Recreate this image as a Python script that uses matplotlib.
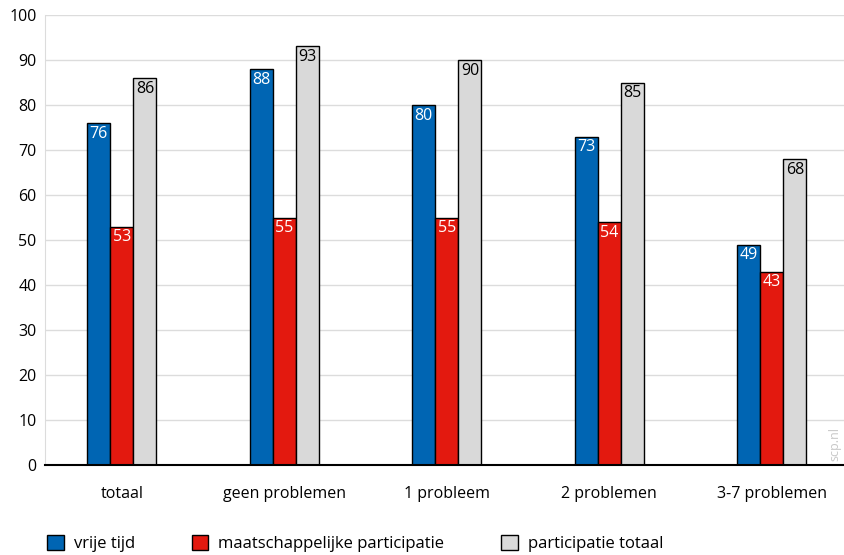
import numpy as np
import matplotlib.pyplot as plt
from matplotlib.patches import Patch

plt.rcParams['font.family'] = ['Open Sans', 'DejaVu Sans']

categories = ['totaal', 'geen problemen', '1 probleem', '2 problemen', '3-7 problemen']
vrije_tijd = [76, 88, 80, 73, 49]
maatsch = [53, 55, 55, 54, 43]
totaal = [86, 93, 90, 85, 68]
series = ['vrije tijd', 'maatschappelijke participatie', 'participatie totaal']
colors = ['#0065b3', '#e3190f', '#d9d9d9']
txtcol = ['white', 'white', 'black']

fig = plt.figure(figsize=(8.45, 5.55), dpi=100)
ax = fig.add_axes([0.053, 0.162, 0.947, 0.811])

x = np.arange(len(categories))
w = 0.142
for i, vals in enumerate([vrije_tijd, maatsch, totaal]):
    pos = x + (i - 1) * w
    ax.bar(pos, vals, w, color=colors[i], edgecolor='black', linewidth=1, zorder=3)
    for p, v in zip(pos, vals):
        ax.text(p, v - 0.6, str(v), ha='center', va='top', color=txtcol[i],
                fontsize=11.5, zorder=4)

ax.set_xlim(-0.474, 4.45)
ax.set_ylim(0, 100)
ax.set_yticks(range(0, 101, 10))
ax.set_xticks(x)
ax.set_xticklabels(categories)
ax.yaxis.grid(True, color='#dcdcdc', linewidth=1, zorder=0)
ax.tick_params(axis='both', length=0, labelsize=11.5)
ax.tick_params(axis='x', pad=15)
ax.tick_params(axis='y', pad=6)
for s in ['top', 'right']:
    ax.spines[s].set_visible(False)
ax.spines['left'].set_color('#dcdcdc')
ax.spines['bottom'].set_color('black')
ax.spines['bottom'].set_linewidth(1.5)
ax.spines['bottom'].set_zorder(5)

ax.text(4.35, 1, 'scp.nl', rotation=90, color='#c8c8c8', fontsize=9,
        ha='left', va='bottom')

handles = [Patch(facecolor=c, edgecolor='black') for c in colors]
fig.legend(handles, series, loc='lower left', bbox_to_anchor=(0.038, -0.022),
           ncol=3, frameon=False, fontsize=12, handlelength=1.0, handleheight=1.0,
           columnspacing=3.4, handletextpad=0.6)

fig.savefig('out.png', dpi=100)
